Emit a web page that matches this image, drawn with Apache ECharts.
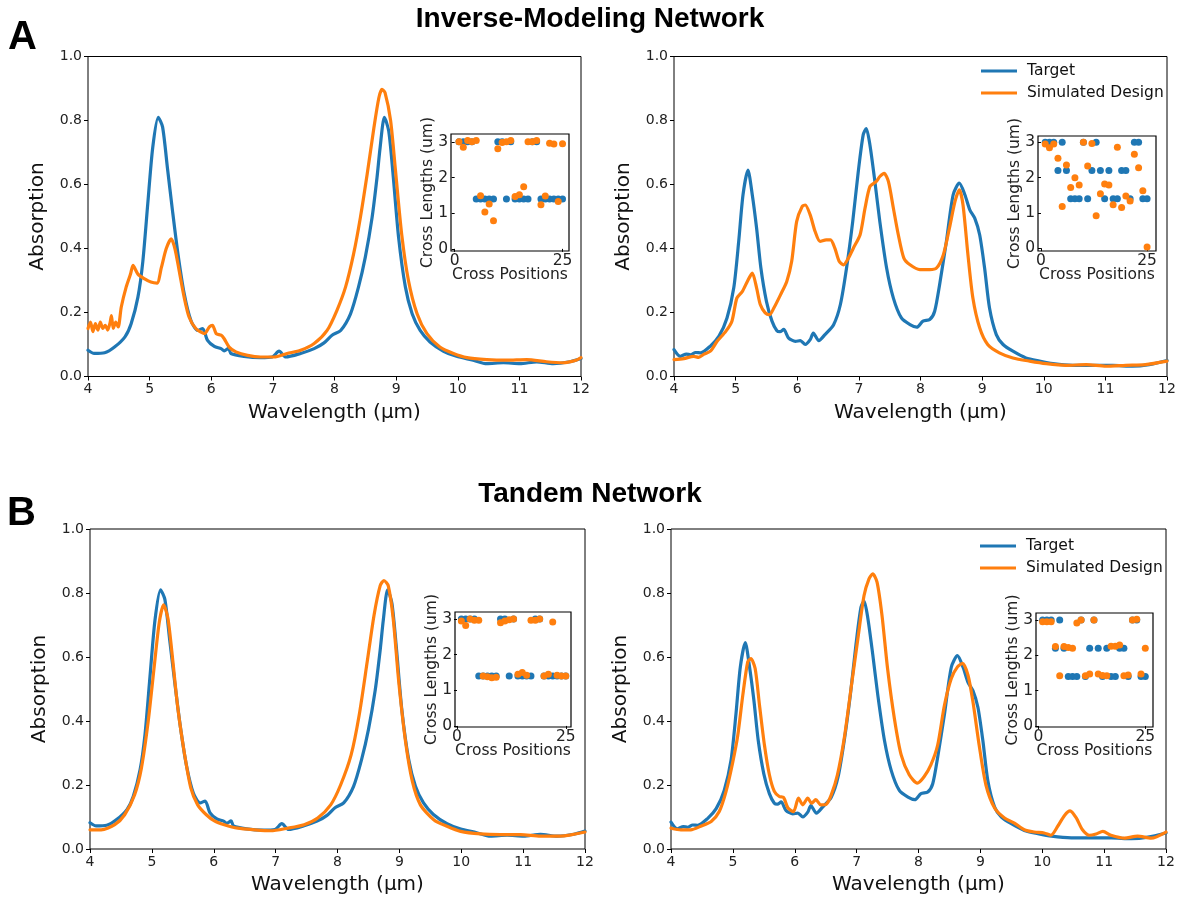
<!DOCTYPE html>
<html><head><meta charset="utf-8">
<script src="https://cdn.jsdelivr.net/npm/echarts@6/dist/echarts.min.js"></script>
<style>html,body{margin:0;padding:0;background:#fff}#c{width:1180px;height:903px}</style>
</head><body><div id="c"></div><script>
// ---------- DATA ----------
// spectra: [wavelength (µm), absorption]
const targetA = [[4.0,0.082],[4.1,0.072],[4.27,0.074],[4.43,0.092],[4.6,0.124],[4.7,0.165],[4.81,0.248],[4.89,0.36],[4.97,0.54],[5.05,0.715],[5.14,0.81],[5.21,0.78],[5.29,0.65],[5.37,0.52],[5.46,0.383],[5.56,0.26],[5.67,0.175],[5.78,0.144],[5.86,0.15],[5.94,0.113],[6.05,0.094],[6.16,0.087],[6.21,0.08],[6.28,0.088],[6.32,0.072],[6.53,0.063],[6.8,0.059],[6.99,0.061],[7.1,0.079],[7.21,0.061],[7.45,0.072],[7.67,0.087],[7.83,0.105],[7.96,0.129],[8.1,0.144],[8.26,0.196],[8.39,0.28],[8.5,0.373],[8.61,0.497],[8.69,0.622],[8.74,0.715],[8.81,0.81],[8.88,0.767],[8.95,0.632],[9.04,0.435],[9.15,0.28],[9.26,0.196],[9.39,0.144],[9.55,0.108],[9.77,0.079],[9.98,0.063],[10.25,0.051],[10.47,0.04],[10.74,0.043],[11.01,0.04],[11.28,0.046],[11.55,0.04],[11.82,0.046],[12.0,0.056]];
const designA1 = [[4.0,0.15],[4.04,0.17],[4.08,0.14],[4.12,0.165],[4.16,0.145],[4.2,0.17],[4.24,0.15],[4.28,0.16],[4.32,0.145],[4.36,0.17],[4.38,0.19],[4.41,0.15],[4.45,0.17],[4.49,0.155],[4.54,0.217],[4.62,0.28],[4.69,0.32],[4.73,0.347],[4.81,0.32],[4.92,0.305],[5.02,0.295],[5.12,0.292],[5.19,0.34],[5.27,0.40],[5.35,0.43],[5.41,0.40],[5.48,0.33],[5.56,0.248],[5.64,0.186],[5.75,0.15],[5.89,0.134],[5.97,0.155],[6.02,0.16],[6.08,0.134],[6.16,0.129],[6.21,0.118],[6.29,0.092],[6.4,0.077],[6.59,0.066],[6.8,0.061],[7.02,0.061],[7.23,0.072],[7.45,0.082],[7.67,0.103],[7.88,0.144],[8.04,0.207],[8.18,0.28],[8.31,0.383],[8.42,0.497],[8.53,0.632],[8.64,0.778],[8.72,0.871],[8.77,0.897],[8.82,0.887],[8.91,0.80],[8.99,0.643],[9.09,0.445],[9.2,0.30],[9.34,0.196],[9.5,0.134],[9.71,0.092],[9.93,0.072],[10.15,0.059],[10.47,0.053],[10.79,0.051],[11.12,0.053],[11.44,0.046],[11.71,0.043],[11.92,0.051],[12.0,0.059]];
const targetB = [[4.0,0.084],[4.1,0.063],[4.2,0.07],[4.27,0.068],[4.35,0.075],[4.43,0.074],[4.59,0.095],[4.73,0.126],[4.86,0.183],[4.97,0.277],[5.05,0.422],[5.12,0.568],[5.2,0.645],[5.27,0.568],[5.34,0.464],[5.41,0.339],[5.5,0.235],[5.59,0.173],[5.67,0.143],[5.72,0.14],[5.78,0.147],[5.86,0.12],[5.97,0.11],[6.05,0.112],[6.13,0.10],[6.21,0.115],[6.26,0.136],[6.35,0.112],[6.45,0.131],[6.59,0.162],[6.7,0.225],[6.8,0.339],[6.9,0.484],[6.99,0.64],[7.07,0.755],[7.12,0.775],[7.18,0.723],[7.26,0.609],[7.34,0.484],[7.45,0.339],[7.56,0.245],[7.69,0.183],[7.83,0.162],[7.94,0.154],[8.04,0.173],[8.15,0.178],[8.23,0.204],[8.31,0.287],[8.42,0.422],[8.53,0.568],[8.63,0.604],[8.72,0.568],[8.8,0.521],[8.88,0.495],[8.96,0.443],[9.04,0.339],[9.12,0.214],[9.23,0.131],[9.34,0.10],[9.5,0.079],[9.71,0.058],[9.93,0.048],[10.15,0.04],[10.47,0.035],[10.79,0.035],[11.12,0.035],[11.44,0.032],[11.71,0.037],[12.0,0.05]];
const designA2 = [[4.0,0.053],[4.16,0.056],[4.32,0.063],[4.4,0.06],[4.49,0.07],[4.59,0.079],[4.7,0.11],[4.84,0.141],[4.94,0.173],[5.02,0.245],[5.11,0.266],[5.19,0.297],[5.27,0.323],[5.34,0.277],[5.4,0.225],[5.48,0.199],[5.55,0.193],[5.62,0.214],[5.73,0.256],[5.83,0.297],[5.91,0.36],[5.99,0.484],[6.08,0.531],[6.13,0.536],[6.21,0.505],[6.29,0.453],[6.37,0.422],[6.47,0.427],[6.54,0.427],[6.61,0.401],[6.68,0.36],[6.75,0.349],[6.83,0.37],[6.91,0.401],[7.02,0.443],[7.1,0.526],[7.18,0.594],[7.28,0.609],[7.34,0.625],[7.41,0.635],[7.48,0.609],[7.56,0.526],[7.64,0.443],[7.73,0.37],[7.83,0.349],[7.99,0.334],[8.15,0.334],[8.26,0.339],[8.37,0.38],[8.47,0.464],[8.56,0.547],[8.63,0.583],[8.69,0.536],[8.77,0.38],[8.85,0.245],[8.96,0.152],[9.09,0.10],[9.28,0.074],[9.5,0.058],[9.77,0.048],[10.04,0.04],[10.36,0.035],[10.69,0.037],[11.01,0.032],[11.33,0.035],[11.65,0.037],[12.0,0.048]];
const designB1 = [[4.0,0.06],[4.18,0.06],[4.4,0.076],[4.56,0.107],[4.72,0.169],[4.83,0.252],[4.94,0.398],[5.04,0.574],[5.12,0.709],[5.19,0.763],[5.26,0.72],[5.34,0.585],[5.42,0.439],[5.53,0.294],[5.63,0.19],[5.74,0.138],[5.88,0.107],[6.01,0.088],[6.17,0.076],[6.39,0.065],[6.66,0.06],[6.92,0.057],[7.19,0.065],[7.46,0.076],[7.68,0.097],[7.89,0.138],[8.05,0.20],[8.22,0.294],[8.35,0.418],[8.48,0.585],[8.59,0.73],[8.69,0.823],[8.75,0.839],[8.82,0.823],[8.9,0.72],[8.99,0.522],[9.1,0.335],[9.21,0.211],[9.34,0.138],[9.56,0.091],[9.77,0.071],[9.99,0.055],[10.31,0.047],[10.63,0.045],[10.96,0.045],[11.28,0.04],[11.6,0.04],[12.0,0.053]];
const designB2 = [[4.0,0.065],[4.16,0.06],[4.32,0.06],[4.48,0.071],[4.65,0.086],[4.78,0.117],[4.89,0.18],[5.0,0.273],[5.08,0.356],[5.16,0.48],[5.24,0.585],[5.29,0.595],[5.36,0.564],[5.43,0.45],[5.51,0.325],[5.59,0.232],[5.67,0.18],[5.75,0.164],[5.82,0.161],[5.89,0.128],[5.98,0.117],[6.06,0.159],[6.13,0.138],[6.21,0.159],[6.27,0.143],[6.34,0.154],[6.42,0.138],[6.51,0.14],[6.59,0.169],[6.69,0.232],[6.8,0.346],[6.91,0.502],[7.02,0.657],[7.12,0.792],[7.2,0.844],[7.26,0.86],[7.33,0.834],[7.41,0.73],[7.5,0.564],[7.61,0.408],[7.72,0.294],[7.85,0.232],[7.98,0.206],[8.09,0.226],[8.2,0.263],[8.31,0.325],[8.42,0.45],[8.53,0.533],[8.63,0.569],[8.71,0.58],[8.8,0.543],[8.88,0.46],[8.98,0.325],[9.09,0.20],[9.23,0.128],[9.39,0.097],[9.55,0.081],[9.71,0.06],[9.87,0.053],[10.03,0.05],[10.14,0.043],[10.25,0.071],[10.36,0.105],[10.45,0.119],[10.55,0.097],[10.65,0.06],[10.76,0.043],[10.87,0.047],[10.98,0.055],[11.11,0.043],[11.33,0.034],[11.54,0.04],[11.76,0.034],[12.0,0.053]];

// inset: cross lengths (um) at cross positions 1..25
const crossPositions = [1,2,3,4,5,6,7,8,9,10,11,12,13,14,15,16,17,18,19,20,21,22,23,24,25];
const crossTargetA  = [3,3,3,3,1.4,1.4,1.4,1.4,1.4,3,3,1.4,3,1.4,1.4,1.4,1.4,3,3,1.4,1.4,1.4,1.4,1.4,1.4];
const crossDesignA1 = [3.0,2.85,3.04,3.0,3.04,1.49,1.03,1.26,0.79,2.81,2.98,3.0,3.04,1.47,1.52,1.74,3.0,3.0,3.04,1.24,1.48,2.96,2.94,1.33,2.95];
const crossTargetB  = [3,3,3,2.2,3,2.2,1.4,1.4,1.4,3,1.4,2.2,3,2.2,1.4,2.2,1.4,1.4,2.2,2.2,1.4,3,3,1.4,1.4];
const crossDesignA2 = [2.95,2.85,2.95,2.55,1.18,2.36,1.72,2.0,1.79,3.0,2.33,2.97,0.92,1.54,1.82,1.79,1.23,2.86,1.15,1.48,1.34,2.66,2.28,1.63,0.03];
const crossDesignB1 = [2.95,2.82,3.0,2.97,2.97,1.4,1.38,1.35,1.37,2.9,2.95,2.98,3.0,1.45,1.5,1.42,2.97,2.97,3.0,1.4,1.45,2.92,1.42,1.4,1.4];
const crossDesignB2 = [2.95,2.95,2.95,2.25,1.42,2.25,2.22,2.2,2.92,3.0,1.42,1.47,3.0,1.47,1.43,1.42,2.26,2.26,2.29,1.42,1.44,3.0,3.02,1.47,2.2];

const seriesNames = ['Target','Simulated Design'];
const titles = ['Inverse-Modeling Network','Tandem Network'];
const panelLetters = ['A','B'];
const mainXTicks = {min:4, max:12, interval:1};
const mainYTicks = {min:0, max:1, interval:0.2};
const insetXTicks = [0,25];
const insetYTicks = [0,1,2,3];

// ---------- LAYOUT / STYLE ----------
const FONT = 'DejaVu Sans';
const BLUE = '#1f77b4', ORANGE = '#ff7f0e';
const mainGrids = [
  {left:88, top:56.5, width:493, height:320},
  {left:674, top:56.5, width:493, height:320},
  {left:90, top:529, width:495, height:320},
  {left:671, top:529, width:495, height:320}
];
const insetGrids = [
  {left:451, top:134, width:118, height:117, xr:[-0.85,26.5], yr:[-0.06,3.22]},
  {left:1038, top:136, width:118, height:115, xr:[-0.7,27.1], yr:[-0.08,3.18]},
  {left:455, top:612, width:116, height:115, xr:[-0.46,26.2], yr:[-0.03,3.2]},
  {left:1036, top:613, width:117, height:114, xr:[-0.54,26.8], yr:[-0.03,3.2]}
];
const curves = [[targetA, designA1],[targetB, designA2],[targetA, designB1],[targetB, designB2]];
const crosses = [[crossTargetA, crossDesignA1],[crossTargetB, crossDesignA2],[crossTargetA, crossDesignB1],[crossTargetB, crossDesignB2]];

const grid = [], xAxis = [], yAxis = [], series = [];
mainGrids.forEach((g,i) => {
  grid.push({left:g.left, top:g.top, width:g.width, height:g.height, show:true, borderColor:'#000', borderWidth:1, backgroundColor:'transparent'});
  xAxis.push({gridIndex:i, type:'value', min:mainXTicks.min, max:mainXTicks.max, interval:mainXTicks.interval,
    axisLine:{show:false}, splitLine:{show:false},
    axisTick:{show:true, length:4, lineStyle:{color:'#000'}},
    axisLabel:{fontSize:14, color:'#222', fontFamily:FONT, margin:6},
    name:'Wavelength (µm)', nameLocation:'middle', nameGap:26,
    nameTextStyle:{fontSize:20, color:'#111', fontFamily:FONT}});
  yAxis.push({gridIndex:i, type:'value', min:mainYTicks.min, max:mainYTicks.max, interval:mainYTicks.interval,
    axisLine:{show:false}, splitLine:{show:false},
    axisTick:{show:true, length:4, lineStyle:{color:'#000'}},
    axisLabel:{fontSize:14, color:'#222', fontFamily:FONT, margin:6, formatter:v=>v.toFixed(1)},
    name:'Absorption', nameLocation:'middle', nameGap:40, nameRotate:90,
    nameTextStyle:{fontSize:20, color:'#111', fontFamily:FONT}});
  curves[i].forEach((d,k) => {
    series.push({type:'line', name:seriesNames[k], xAxisIndex:i, yAxisIndex:i, data:d,
      showSymbol:false, smooth:0.25,
      lineStyle:{width:3.2, color:k?ORANGE:BLUE, join:'round', cap:'round'}, itemStyle:{color:k?ORANGE:BLUE},
      z:2+k, silent:true, animation:false});
  });
});
insetGrids.forEach((g,j) => {
  const i = 4 + j;
  grid.push({left:g.left, top:g.top, width:g.width, height:g.height, show:true, borderColor:'#000', borderWidth:1.2, backgroundColor:'#fff', z:5});
  xAxis.push({gridIndex:i, type:'value', min:g.xr[0], max:g.xr[1],
    axisLine:{show:false}, splitLine:{show:false},
    axisTick:{show:true, length:3, lineStyle:{color:'#000'}, customValues:insetXTicks},
    axisLabel:{fontSize:15.5, color:'#222', fontFamily:FONT, margin:2, customValues:insetXTicks},
    name:'Cross Positions', nameLocation:'middle', nameGap:16, nameMoveOverlap:false,
    nameTextStyle:{fontSize:15.5, color:'#222', fontFamily:FONT}, z:6});
  yAxis.push({gridIndex:i, type:'value', min:g.yr[0], max:g.yr[1],
    axisLine:{show:false}, splitLine:{show:false},
    axisTick:{show:true, length:3, lineStyle:{color:'#000'}, customValues:insetYTicks},
    axisLabel:{fontSize:15.5, color:'#222', fontFamily:FONT, margin:3, customValues:insetYTicks},
    name:'Cross Lengths (um)', nameLocation:'middle', nameGap:15, nameRotate:90, nameMoveOverlap:false,
    nameTextStyle:{fontSize:15.5, color:'#222', fontFamily:FONT}, z:6});
  crosses[j].forEach((vals,k) => {
    series.push({type:'scatter', name:(k?'design':'target')+' lengths '+j, xAxisIndex:i, yAxisIndex:i,
      data:crossPositions.map((p,n)=>[p, vals[n]]),
      symbolSize:7, itemStyle:{color:k?ORANGE:BLUE, opacity:1}, z:7+k, silent:true, animation:false});
  });
});

const legendBase = {orient:'vertical', icon:'rect', itemWidth:36, itemHeight:3, itemGap:4,
  data:seriesNames, selectedMode:false,
  textStyle:{fontSize:15.5, color:'#111', fontFamily:FONT, lineHeight:18, padding:[0,0,0,5]}};
const legend = [
  Object.assign({}, legendBase, {left:976, top:57}),
  Object.assign({}, legendBase, {left:975, top:532})
];

const graphic = [
  {type:'text', left:'center', top:5, style:{text:titles[0], font:'bold 28px "Liberation Sans", Arial, sans-serif', fill:'#000'}},
  {type:'text', left:'center', top:480, style:{text:titles[1], font:'bold 28px "Liberation Sans", Arial, sans-serif', fill:'#000'}},
  {type:'text', left:8, top:18, style:{text:panelLetters[0], font:'bold 40px "Liberation Sans", Arial, sans-serif', fill:'#000'}},
  {type:'text', left:7, top:494, style:{text:panelLetters[1], font:'bold 40px "Liberation Sans", Arial, sans-serif', fill:'#000'}}
];

const chart = echarts.init(document.getElementById('c'), null, {renderer:'canvas'});
chart.setOption({backgroundColor:'#fff', animation:false, grid, xAxis, yAxis, series, legend, graphic});
</script></body></html>
